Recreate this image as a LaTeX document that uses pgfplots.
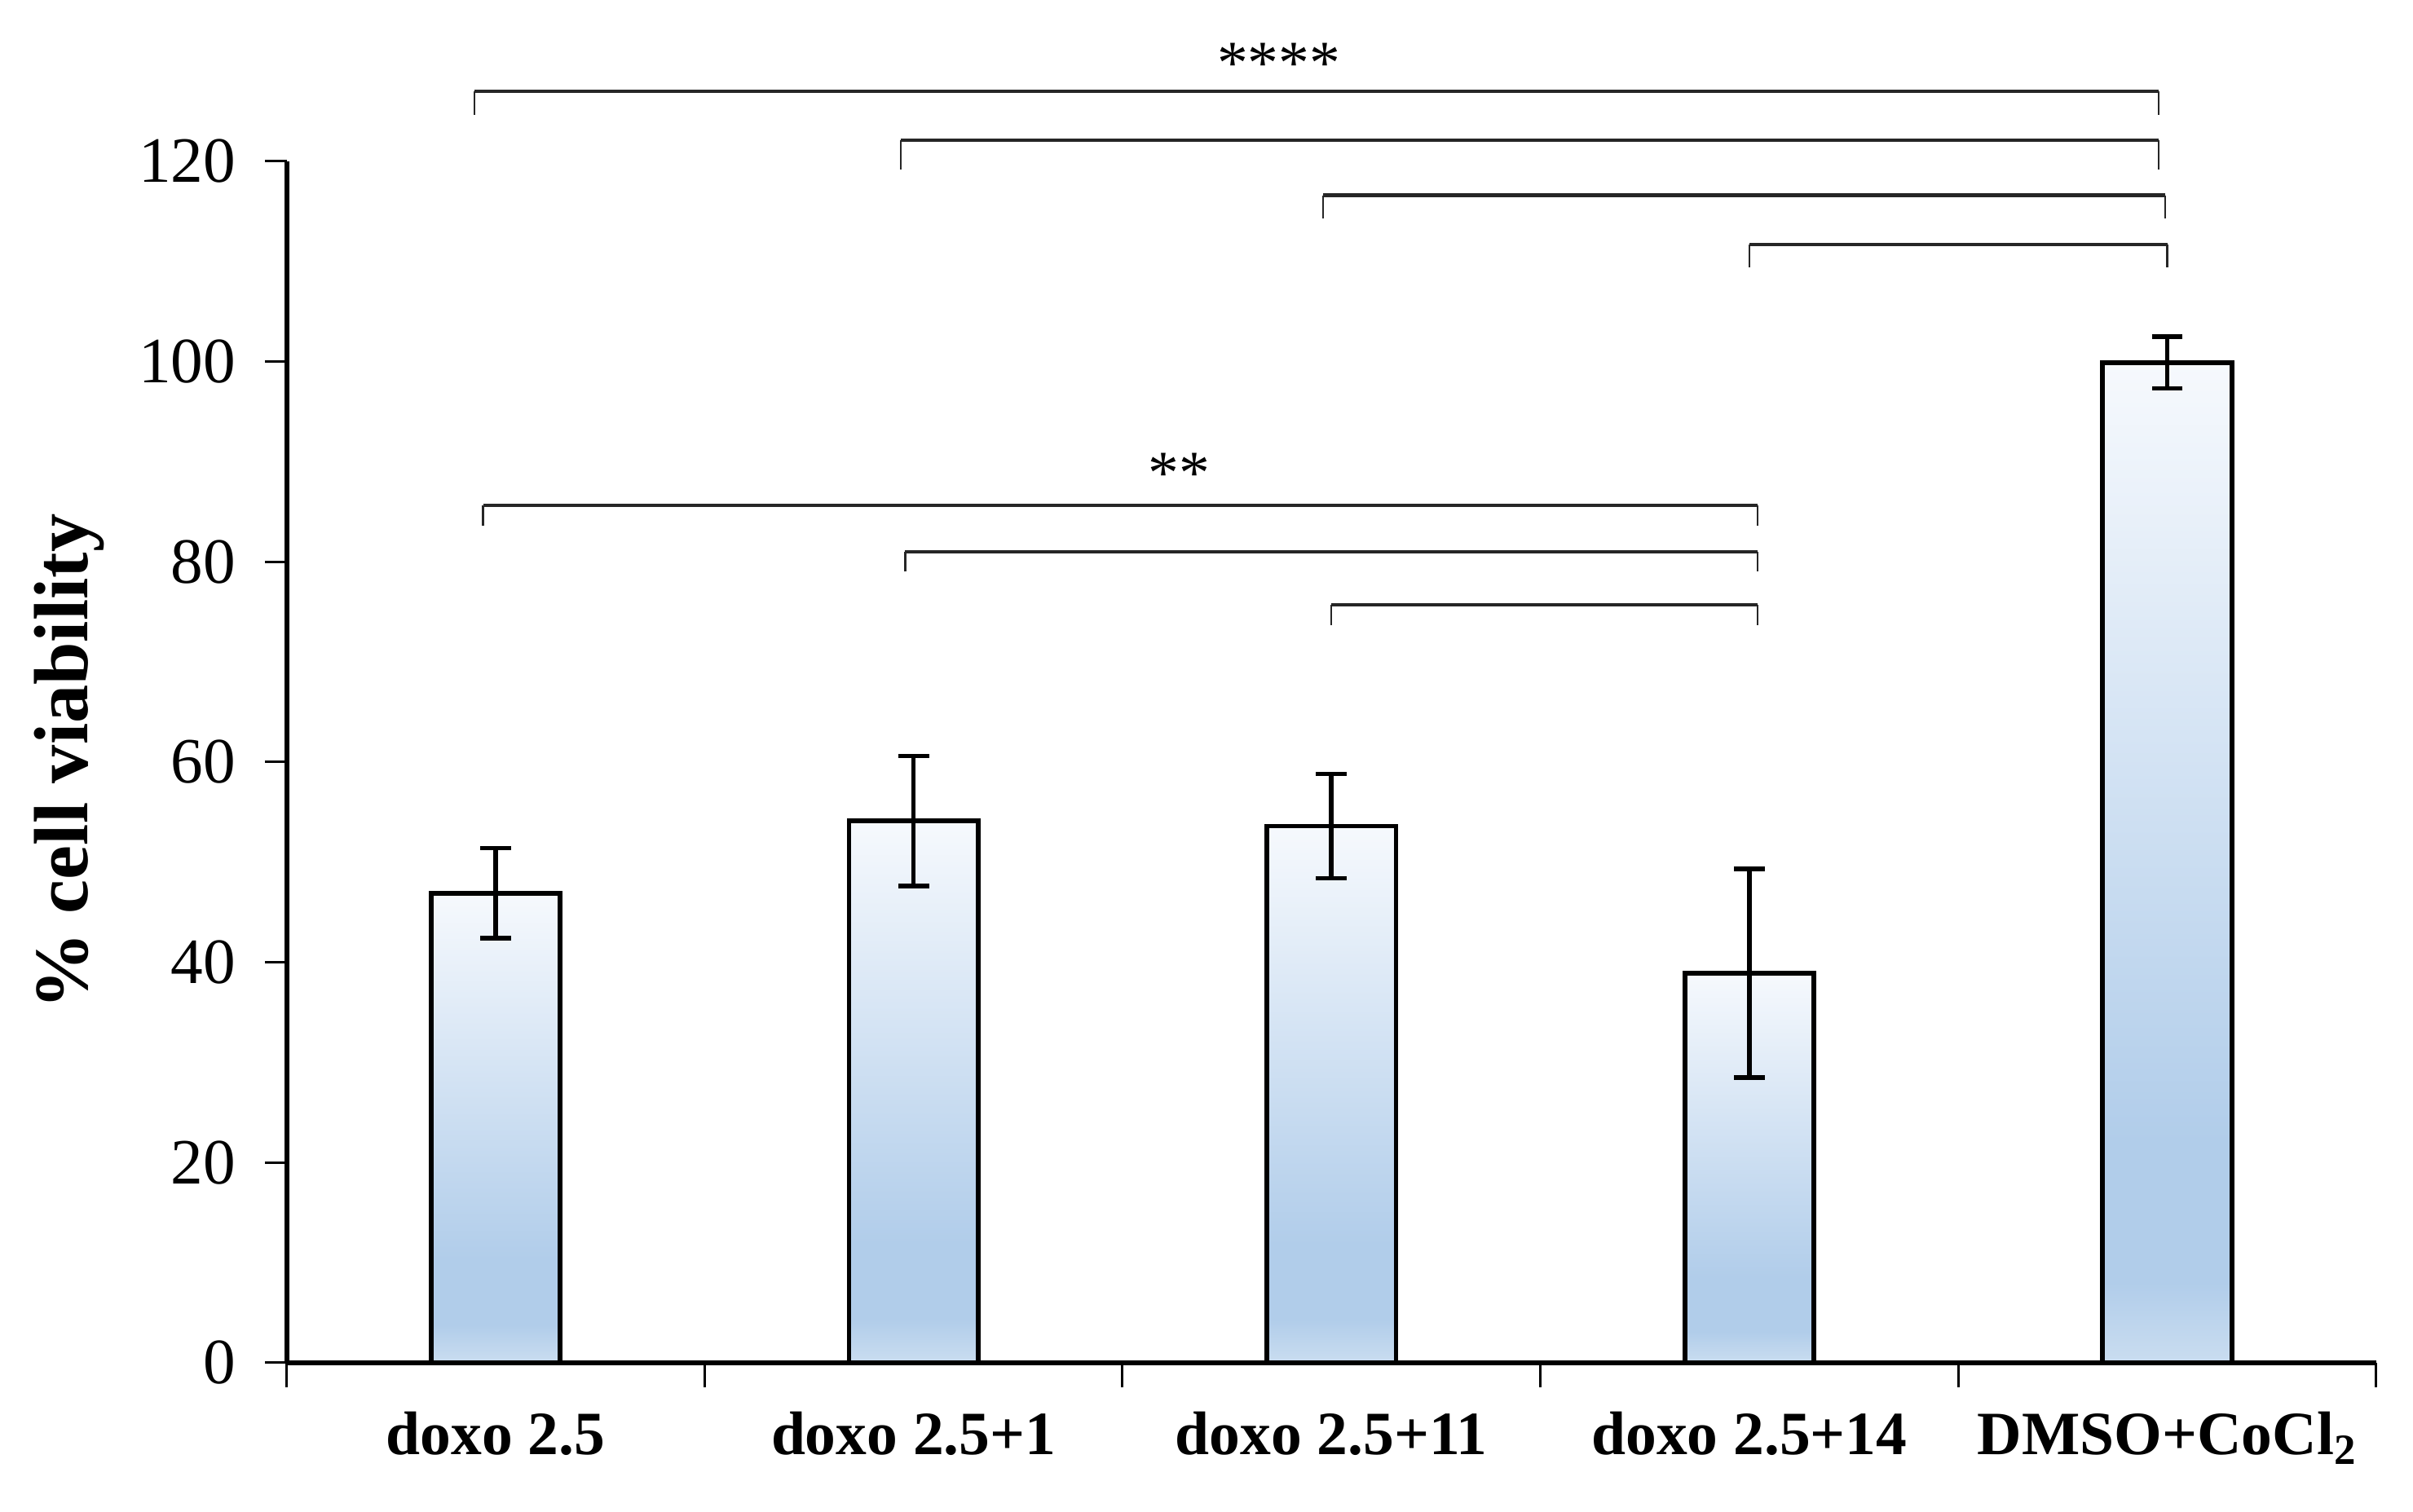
\documentclass[border=0pt]{standalone}
\usepackage{fontspec}
\setmainfont{Liberation Serif}
\usepackage{pgfplots}
\pgfplotsset{compat=1.18}
\definecolor{bbot}{HTML}{CADDF0}
\definecolor{bmid}{HTML}{B1CDEA}
\definecolor{btop}{HTML}{F6F9FD}
\pgfdeclareverticalshading{barshade}{100bp}{color(0bp)=(bbot); color(25bp)=(bbot); color(29bp)=(bmid); color(36bp)=(bmid); color(75bp)=(btop); color(100bp)=(btop)}
\pgfplotsset{mybar/.style={ybar, bar width=42pt, bar shift=0pt, draw=black, line width=1.5pt, shade, shading=barshade, forget plot}}
\begin{document}
\begin{tikzpicture}
\begin{axis}[
  scale only axis,
  width=679pt, height=390.5pt,
  xmin=-0.5, xmax=4.5,
  ymin=0, ymax=120,
  axis lines=left,
  axis line style={line width=1.5pt, -},
  clip=false,
  xtick={0,1,2,3,4},
  xticklabels={doxo 2.5, doxo 2.5+1, doxo 2.5+11, doxo 2.5+14, DMSO+CoCl\textsubscript{2}},
  minor xtick={-0.5,0.5,1.5,2.5,3.5,4.5},
  x tick style={draw=none},
  minor x tick style={draw=black, line width=0.8pt},
  minor tick length=8pt,
  ytick={0,20,...,120},
  y tick style={draw=black, line width=0.8pt},
  major tick length=7pt,
  tick align=outside,
  x tick label style={font=\fontsize{20}{22}\selectfont\bfseries, yshift=-5.5pt},
  y tick label style={font=\fontsize{21}{23}\selectfont, xshift=-6pt},
  /pgf/number format/assume math mode=true,
  ylabel={\% cell viability},
  every axis y label/.style={at={(ticklabel cs:0.5)}, rotate=90, anchor=near ticklabel, yshift=4.5pt, font=\fontsize{25}{27}\selectfont\bfseries},
]
\path (axis cs:-1.186,136.1) rectangle (axis cs:4.588,-14.9);
\addplot[mybar] coordinates {(0,46.9)};
\addplot[mybar] coordinates {(1,54.1)};
\addplot[mybar] coordinates {(2,53.6)};
\addplot[mybar] coordinates {(3,38.9)};
\addplot[mybar] coordinates {(4,99.9)};
\addplot[draw=none, mark=none, forget plot,
  error bars/.cd, y dir=both, y explicit,
  error bar style={draw=black, line width=1.5pt},
  error mark options={draw=black, rotate=90, mark size=5pt, line width=1.5pt}]
  coordinates {(0,46.9) +- (0,4.5) (1,54.1) +- (0,6.5) (2,53.6) +- (0,5.2) (3,38.9) +- (0,10.4) (4,99.9) +- (0,2.6)};
% significance brackets
\begin{scope}[draw=black!85]
\draw[line width=1.1pt] (axis cs:-0.05,127.0) -- (axis cs:3.98,127.0);
\draw[line width=0.6pt] (axis cs:-0.05,124.6) -- (axis cs:-0.05,127.0) (axis cs:3.98,127.0) -- (axis cs:3.98,124.6);
\draw[line width=1.1pt] (axis cs:0.97,122.1) -- (axis cs:3.98,122.1);
\draw[line width=0.6pt] (axis cs:0.97,119.2) -- (axis cs:0.97,122.1) (axis cs:3.98,122.1) -- (axis cs:3.98,119.2);
\draw[line width=1.1pt] (axis cs:1.98,116.6) -- (axis cs:3.995,116.6);
\draw[line width=0.6pt] (axis cs:1.98,114.3) -- (axis cs:1.98,116.6) (axis cs:3.995,116.6) -- (axis cs:3.995,114.3);
\draw[line width=1.1pt] (axis cs:3.0,111.7) -- (axis cs:4.0,111.7);
\draw[line width=0.6pt] (axis cs:3.0,109.4) -- (axis cs:3.0,111.7) (axis cs:4.0,111.7) -- (axis cs:4.0,109.4);
\draw[line width=1.1pt] (axis cs:-0.03,85.6) -- (axis cs:3.02,85.6);
\draw[line width=0.6pt] (axis cs:-0.03,83.6) -- (axis cs:-0.03,85.6) (axis cs:3.02,85.6) -- (axis cs:3.02,83.6);
\draw[line width=1.1pt] (axis cs:0.98,81.0) -- (axis cs:3.02,81.0);
\draw[line width=0.6pt] (axis cs:0.98,79.0) -- (axis cs:0.98,81.0) (axis cs:3.02,81.0) -- (axis cs:3.02,79.0);
\draw[line width=1.1pt] (axis cs:2.0,75.7) -- (axis cs:3.02,75.7);
\draw[line width=0.6pt] (axis cs:2.0,73.7) -- (axis cs:2.0,75.7) (axis cs:3.02,75.7) -- (axis cs:3.02,73.7);
\end{scope}
\node[font=\fontsize{20}{22}\selectfont, inner sep=0pt] at (axis cs:1.874,129.8) {****};
\node[font=\fontsize{20}{22}\selectfont, inner sep=0pt] at (axis cs:1.635,88.8) {**};
\end{axis}
\end{tikzpicture}
\end{document}
